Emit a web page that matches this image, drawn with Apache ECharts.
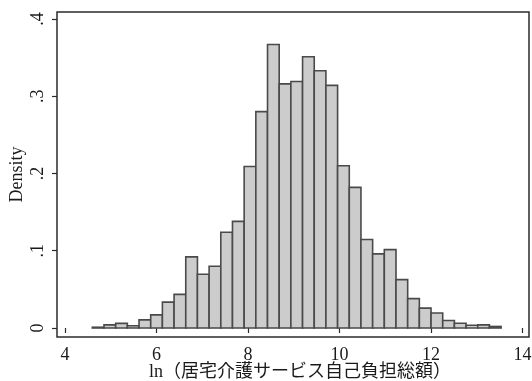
<!DOCTYPE html>
<html>
<head>
<meta charset="utf-8">
<script src="https://cdn.jsdelivr.net/npm/echarts@6/dist/echarts.min.js"></script>
<style>
html,body{margin:0;padding:0;background:#fff;}
#chart{width:532px;height:381px;}
</style>
</head>
<body>
<div id="chart"></div>
<script>
// Histogram bins (x = ln of amount)
var binStart = 4.597;
var binWidth = 0.2553;
var densities = [0.001, 0.004, 0.006, 0.003, 0.0105, 0.017, 0.0335, 0.0435, 0.092, 0.0695,
                 0.080, 0.124, 0.138, 0.209, 0.280, 0.367, 0.316, 0.319, 0.351, 0.333,
                 0.314, 0.210, 0.182, 0.1145, 0.096, 0.1015, 0.0626, 0.038, 0.0257, 0.0195,
                 0.0097, 0.0062, 0.0036, 0.004, 0.002];
var xTickValues = [4, 6, 8, 10, 12, 14];
var xTickLabels = ['4', '6', '8', '10', '12', '14'];
var yTickValues = [0, 0.1, 0.2, 0.3, 0.4];
var yTickLabels = ['0', '.1', '.2', '.3', '.4'];
var xTitle = 'ln（居宅介護サービス自己負担総額）';
var yTitle = 'Density';

var binData = densities.map(function (d, i) {
  return [binStart + i * binWidth, binStart + (i + 1) * binWidth, d];
});

var FONT = "'Liberation Serif', 'Noto Sans CJK JP', serif";
var chart = echarts.init(document.getElementById('chart'), null, {renderer: 'canvas'});
chart.setOption({
  animation: false,
  backgroundColor: '#ffffff',
  grid: {
    left: 57, right: 3, top: 12, bottom: 44,
    containLabel: false, outerBoundsMode: 'none',
    show: true, borderColor: '#2b2b2b', borderWidth: 1.5, backgroundColor: 'transparent'
  },
  xAxis: {
    type: 'value',
    min: 3.825, max: 14.142,
    axisLine: {show: false},
    splitLine: {show: false},
    axisTick: {show: true, inside: false, length: 5, customValues: xTickValues,
               lineStyle: {color: '#2b2b2b', width: 1.2}},
    axisLabel: {
      customValues: xTickValues, margin: 9,
      fontFamily: FONT, fontSize: 18, color: '#1a1a1a',
      formatter: function (v) { var i = xTickValues.indexOf(v); return i >= 0 ? xTickLabels[i] : ''; }
    },
    name: xTitle, nameLocation: 'middle', nameGap: 26, nameMoveOverlap: false,
    nameTextStyle: {fontFamily: FONT, fontSize: 18, color: '#1a1a1a', padding: [0, 0, 0, 14]}
  },
  yAxis: {
    type: 'value',
    min: -0.01165, max: 0.409,
    axisLine: {show: false},
    splitLine: {show: false},
    axisTick: {show: true, inside: false, length: 5, customValues: yTickValues,
               lineStyle: {color: '#2b2b2b', width: 1.2}},
    axisLabel: {
      customValues: yTickValues, rotate: 90, margin: 10,
      fontFamily: FONT, fontSize: 18, color: '#1a1a1a',
      formatter: function (v) {
        for (var i = 0; i < yTickValues.length; i++) {
          if (Math.abs(yTickValues[i] - v) < 1e-9) return yTickLabels[i];
        }
        return '';
      }
    },
    name: yTitle, nameLocation: 'middle', nameGap: 31, nameMoveOverlap: false,
    nameTextStyle: {fontFamily: FONT, fontSize: 18, color: '#1a1a1a'}
  },
  series: [{
    type: 'custom',
    data: binData,
    encode: {x: [0, 1], y: 2},
    renderItem: function (params, api) {
      var p0 = api.coord([api.value(0), 0]);
      var p1 = api.coord([api.value(1), api.value(2)]);
      return {
        type: 'rect',
        shape: {x: p0[0], y: p1[1], width: p1[0] - p0[0], height: p0[1] - p1[1]},
        style: {fill: '#cccccc', stroke: '#4a4a4a', lineWidth: 1.6}
      };
    }
  }]
});
</script>
</body>
</html>
